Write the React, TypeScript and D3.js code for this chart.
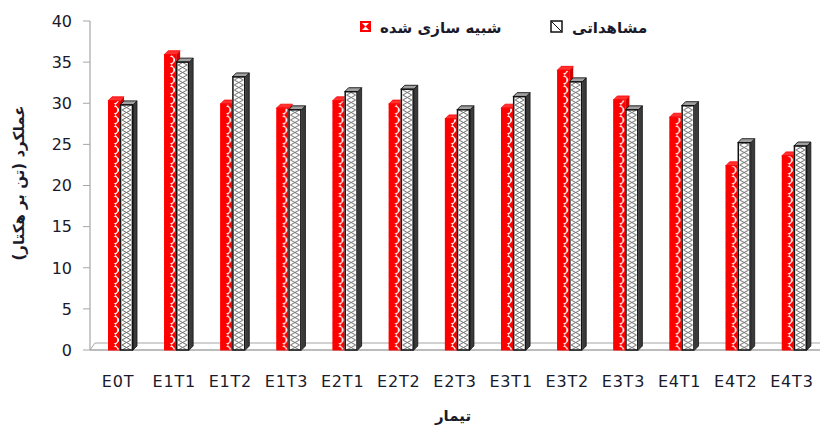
import React from 'react';
import * as d3 from 'd3';

const categories = ['E0T', 'E1T1', 'E1T2', 'E1T3', 'E2T1', 'E2T2', 'E2T3', 'E3T1', 'E3T2', 'E3T3', 'E4T1', 'E4T2', 'E4T3'];
const simulated = [30.3, 35.9, 29.9, 29.4, 30.3, 29.9, 28.1, 29.4, 34.0, 30.4, 28.3, 22.4, 23.6];
const observed = [29.8, 35.0, 33.2, 29.2, 31.4, 31.7, 29.2, 30.8, 32.6, 29.2, 29.7, 25.2, 24.8];
const yTicks = [0, 5, 10, 15, 20, 25, 30, 35, 40];

const simLabel = 'شبیه سازی شده';
const obsLabel = 'مشاهداتی';
const yTitle = 'عملکرد (تن بر هکتار)';
const xTitle = 'تیمار';

const W = 821;
const H = 426;
const left = 90;
const right = 820;
const floorY = 350;
const topY = 21;
const depth = 4;
const redW = 12;
const obsW = 13;
const tile = 10;
const font = 'DejaVu Sans, sans-serif';

const App = () => {
  const x = d3.scaleBand<string>().domain(categories).range([left, right]).padding(0);
  const y = d3.scaleLinear().domain([0, 40]).range([floorY, topY]);

  // 3d column: front face, side and top
  const column = (x0: number, w: number, v: number, kind: 'sim' | 'obs', i: number) => {
    const yt = y(v);
    const side = `M${x0 + w},${yt} L${x0 + w + depth},${yt - depth} L${x0 + w + depth},${floorY - depth} L${x0 + w},${floorY} Z`;
    const top = `M${x0},${yt} L${x0 + depth},${yt - depth} L${x0 + w + depth},${yt - depth} L${x0 + w},${yt} Z`;
    if (kind === 'sim') {
      return (
        <g key={`s${i}`}>
          <path d={side} fill="#d00000" />
          <path d={top} fill="#ff3030" stroke="#ff0000" strokeWidth={0.8} />
          <rect x={x0} y={yt} width={w} height={floorY - yt} fill={`url(#ps${i})`} />
          <rect x={x0 + 0.5} y={yt} width={w - 1} height={floorY - yt} fill="none" stroke="#ff0000" strokeWidth={1} />
        </g>
      );
    }
    return (
      <g key={`o${i}`}>
        <path d={side} fill="#3a3a3a" stroke="#111" strokeWidth={0.8} />
        <path d={top} fill="#a0a0a0" stroke="#111" strokeWidth={0.9} />
        <rect x={x0} y={yt} width={w} height={floorY - yt} fill={`url(#po${i})`} />
        <rect x={x0 + 0.6} y={yt} width={w - 1.2} height={floorY - yt} fill="none" stroke="#111" strokeWidth={1.5} />
      </g>
    );
  };

  return (
    <svg width={W} height={H} style={{ position: 'absolute', left: 0, top: 0, background: '#fff' }}>
      <defs>
        {categories.map((c, i) => {
          const xs = (x(c) as number) + 18;
          const xo = xs + redW;
          return (
            <React.Fragment key={c}>
              <pattern id={`ps${i}`} patternUnits="userSpaceOnUse" x={xs} y={floorY} width={redW} height={tile}>
                <rect width={redW} height={tile} fill="#ff0000" />
                <polygon points={`3,0 12,0 7.5,${tile / 2}`} fill="#fff" />
                <polygon points={`3,${tile} 12,${tile} 7.5,${tile / 2}`} fill="#fff" />
                <circle cx={6} cy={0} r={3.2} fill="#ff0000" />
                <circle cx={6} cy={tile} r={3.2} fill="#ff0000" />
              </pattern>
              <pattern id={`po${i}`} patternUnits="userSpaceOnUse" x={xo} y={floorY} width={obsW} height={tile}>
                <rect width={obsW} height={tile} fill="#fff" />
                <path d={`M2,0 L11,${tile / 2} L2,${tile} M11,0 L2,${tile / 2} L11,${tile}`} stroke="#6a6a6a" strokeWidth={1} fill="none" />
              </pattern>
            </React.Fragment>
          );
        })}
      </defs>

      {/* floor */}
      <path d={`M${left},${floorY} L${left + 5},${floorY - 7} L${right},${floorY - 7}`} fill="none" stroke="#a6a6a6" strokeWidth={1} />
      <line x1={left} x2={right} y1={floorY} y2={floorY} stroke="#a6a6a6" strokeWidth={1.5} />

      {/* y axis */}
      <line x1={left} x2={left} y1={topY} y2={floorY} stroke="#a6a6a6" strokeWidth={1.2} />
      {yTicks.map(t => (
        <g key={t}>
          <line x1={left - 7} x2={left} y1={y(t)} y2={y(t)} stroke="#a6a6a6" />
          <text x={72} y={y(t)} dy="0.36em" textAnchor="end" fontFamily={font} fontSize={16} fill="#1a1a2a">{t}</text>
        </g>
      ))}

      {/* bars */}
      {categories.map((c, i) => {
        const xs = (x(c) as number) + 18;
        return (
          <g key={c}>
            {column(xs, redW, simulated[i], 'sim', i)}
            {column(xs + redW, obsW, observed[i], 'obs', i)}
          </g>
        );
      })}

      {/* x labels */}
      {categories.map(c => (
        <text key={c} x={(x(c) as number) + x.bandwidth() / 2} y={387} textAnchor="middle" fontFamily={font} fontSize={16} letterSpacing={0.8} fill="#1a1a2a">{c}</text>
      ))}

      <text x={453} y={421} textAnchor="middle" fontFamily={font} fontSize={15} fontWeight="bold" fill="#1a1a2a">{xTitle}</text>
      <text transform="translate(24,183) rotate(-90)" textAnchor="middle" fontFamily={font} fontSize={15} fontWeight="bold" fill="#1a1a2a">{yTitle}</text>

      {/* legend */}
      <g>
        <rect x={360} y={21} width={11} height={11} fill="#ff0000" />
        <polygon points="362,23 369,23 365.5,26.5" fill="#fff" />
        <polygon points="362,30 369,30 365.5,26.5" fill="#fff" />
        <text x={380} y={33} fontFamily={font} fontSize={15} fontWeight="bold" fill="#1a1a2a">{simLabel}</text>
        <rect x={551} y={21} width={11} height={11} fill="#fff" stroke="#111" strokeWidth={1.5} />
        <line x1={552} y1={22} x2={561} y2={31} stroke="#111" strokeWidth={1} />
        <text x={572} y={33} fontFamily={font} fontSize={15} fontWeight="bold" fill="#1a1a2a">{obsLabel}</text>
      </g>
    </svg>
  );
};

export default App;
